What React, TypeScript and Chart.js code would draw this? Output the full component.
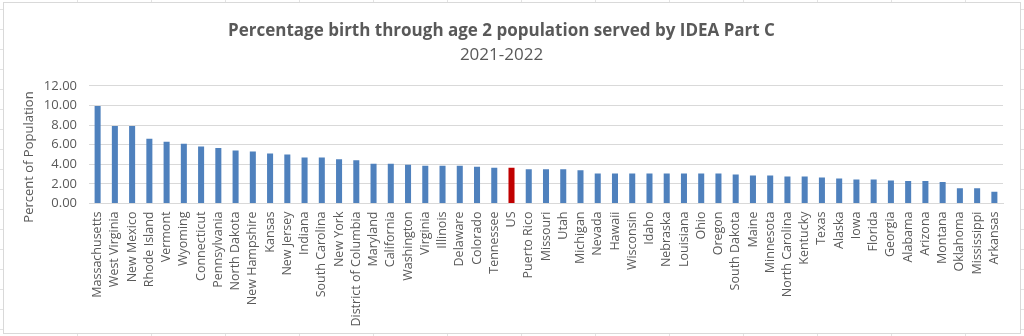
import React, { useEffect, useRef } from "react";
import { Chart, registerables } from "chart.js";

Chart.register(...registerables);

const titleText = "Percentage birth through age 2 population served by IDEA Part C";
const subtitleText = "2021-2022";
const yAxisTitle = "Percent of Population";

const categories = [
  "Massachusetts", "West Virginia", "New Mexico", "Rhode Island", "Vermont", "Wyoming",
  "Connecticut", "Pennsylvania", "North Dakota", "New Hampshire", "Kansas", "New Jersey",
  "Indiana", "South Carolina", "New York", "District of Columbia", "Maryland", "California",
  "Washington", "Virginia", "Illinois", "Delaware", "Colorado", "Tennessee", "US",
  "Puerto Rico", "Missouri", "Utah", "Michigan", "Nevada", "Hawaii", "Wisconsin", "Idaho",
  "Nebraska", "Louisiana", "Ohio", "Oregon", "South Dakota", "Maine", "Minnesota",
  "North Carolina", "Kentucky", "Texas", "Alaska", "Iowa", "Florida", "Georgia", "Alabama",
  "Arizona", "Montana", "Oklahoma", "Mississippi", "Arkansas",
];

const values = [
  9.95, 7.9, 7.9, 6.6, 6.3, 6.1,
  5.8, 5.65, 5.4, 5.3, 5.1, 5.0,
  4.7, 4.7, 4.5, 4.4, 4.05, 4.05,
  3.95, 3.85, 3.85, 3.85, 3.75, 3.65, 3.65,
  3.5, 3.5, 3.5, 3.4, 3.05, 3.05, 3.05, 3.05,
  3.05, 3.05, 3.05, 3.05, 2.95, 2.85, 2.85,
  2.75, 2.75, 2.65, 2.55, 2.45, 2.45, 2.35, 2.3,
  2.3, 2.2, 1.55, 1.55, 1.2,
];

const highlightCategory = "US";
const yTicks = [0, 2, 4, 6, 8, 10, 12];

const BLUE = "#4F81BD";
const RED = "#C00000";
const TEXT = "#595959";
const GRID = "#D9D9D9";
const FONT = "'Open Sans', sans-serif";

const framePlugin = {
  id: "frame",
  beforeDraw(chart: any) {
    const { ctx, width, height } = chart;
    ctx.save();
    ctx.fillStyle = "#ffffff";
    ctx.fillRect(0, 0, width, height);
    // faint spreadsheet cell lines around the chart box
    ctx.strokeStyle = "#E3E3E3";
    ctx.lineWidth = 1;
    ctx.beginPath();
    for (let x = 77; x < width; x += 74) {
      ctx.moveTo(x + 0.5, 0);
      ctx.lineTo(x + 0.5, 2);
      ctx.moveTo(x + 0.5, 334);
      ctx.lineTo(x + 0.5, height);
    }
    for (let y = 9; y < height; y += 20) {
      ctx.moveTo(0, y + 0.5);
      ctx.lineTo(3, y + 0.5);
      ctx.moveTo(1021, y + 0.5);
      ctx.lineTo(width, y + 0.5);
    }
    ctx.stroke();
    ctx.strokeStyle = GRID;
    ctx.strokeRect(3.5, 2.5, 1017, 331);
    ctx.restore();
  },
};

const yTitlePlugin = {
  id: "yTitle",
  afterDraw(chart: any) {
    const { ctx } = chart;
    ctx.save();
    ctx.translate(29, 157);
    ctx.rotate(-Math.PI / 2);
    ctx.fillStyle = TEXT;
    ctx.font = "13px " + FONT;
    ctx.textAlign = "center";
    ctx.textBaseline = "middle";
    ctx.fillText(yAxisTitle, 0, 0);
    ctx.restore();
  },
};

export default function App() {
  const canvasRef = useRef<HTMLCanvasElement | null>(null);

  useEffect(() => {
    if (!canvasRef.current) return;
    const chart = new Chart(canvasRef.current, {
      type: "bar",
      data: {
        labels: categories,
        datasets: [
          {
            data: values,
            backgroundColor: categories.map((c) => (c === highlightCategory ? RED : BLUE)),
            barPercentage: 0.35,
            categoryPercentage: 1,
          },
        ],
      },
      options: {
        animation: false,
        responsive: false,
        maintainAspectRatio: false,
        layout: { padding: { left: 0, right: 21, top: 0, bottom: 0 } },
        plugins: {
          legend: { display: false },
          tooltip: { enabled: false },
          title: {
            display: true,
            text: titleText,
            color: TEXT,
            font: { family: FONT, size: 17, weight: "bold" },
            padding: { top: 21, bottom: 4 },
          },
          subtitle: {
            display: true,
            text: subtitleText,
            color: TEXT,
            font: { family: FONT, size: 17, weight: "normal" },
            padding: { top: 0, bottom: 20 },
          },
        },
        scales: {
          x: {
            grid: { display: false, drawTicks: false },
            border: { display: true, color: GRID },
            ticks: {
              color: TEXT,
              font: { family: FONT, size: 12.5 },
              minRotation: 90,
              maxRotation: 90,
              autoSkip: false,
              padding: 8,
            },
            afterFit(scale: any) {
              scale.height = 132.5;
            },
          },
          y: {
            min: 0,
            max: 12,
            afterBuildTicks(scale: any) {
              scale.ticks = yTicks.map((v) => ({ value: v }));
            },
            grid: { color: GRID, drawTicks: false },
            border: { display: false },
            ticks: {
              color: TEXT,
              font: { family: FONT, size: 13 },
              padding: 12,
              callback: (v: any) => Number(v).toFixed(2),
            },
            afterFit(scale: any) {
              scale.width = 89;
            },
          },
        },
      },
      plugins: [framePlugin, yTitlePlugin],
    });
    return () => chart.destroy();
  }, []);

  return (
    <div style={{ position: "absolute", left: 0, top: 0, width: 1024, height: 336 }}>
      <canvas ref={canvasRef} width={1024} height={336} style={{ display: "block" }} />
    </div>
  );
}
